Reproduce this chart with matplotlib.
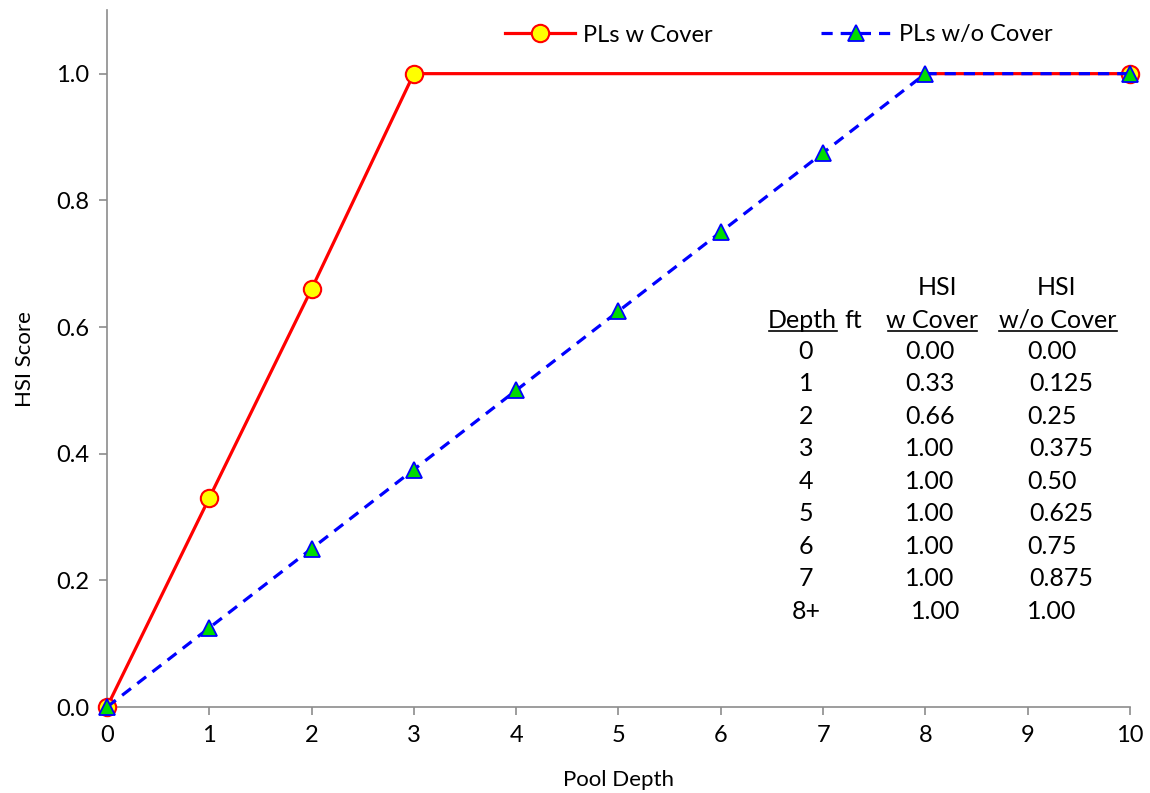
import matplotlib.pyplot as plt
from matplotlib.ticker import MultipleLocator

plt.rcParams['font.family'] = ['Lato', 'DejaVu Sans']

# data
depth_cover = [0, 1, 2, 3, 10]
hsi_cover = [0.0, 0.33, 0.66, 1.0, 1.0]
depth_nocover = [0, 1, 2, 3, 4, 5, 6, 7, 8, 10]
hsi_nocover = [0.0, 0.125, 0.25, 0.375, 0.5, 0.625, 0.75, 0.875, 1.0, 1.0]

table_depth = ['0', '1', '2', '3', '4', '5', '6', '7', '8+']
table_cover = ['0.00', '0.33', '0.66', '1.00', '1.00', '1.00', '1.00', '1.00', '1.00']
table_nocover = ['0.00', '0.125', '0.25', '0.375', '0.50', '0.625', '0.75', '0.875', '1.00']

grey = '#8c8c8c'
fs_tick = 17
fs_lab = 16
fs_leg = 17
fs_tab = 18

fig = plt.figure(figsize=(11.5, 7.93), dpi=100)
ax = fig.add_axes([0.093, 0.1084, 0.8896, 0.8786])

A, = ax.plot(depth_cover, hsi_cover, '-', color='red', lw=2.3, marker='o', ms=12.5,
             mfc='#ffff00', mec='red', mew=1.5, label='PLs w Cover', zorder=3, clip_on=False)
B, = ax.plot(depth_nocover, hsi_nocover, '--', color='#0000ff', lw=2.3, dashes=(3.5, 2.5),
             marker='^', ms=11, mfc='#00dd00', mec='#0000ff', mew=1.3,
             label='PLs w/o Cover', zorder=4, clip_on=False)

ax.set_xlim(0, 10)
ax.set_ylim(0, 1.1)
ax.xaxis.set_major_locator(MultipleLocator(1))
ax.set_yticks([0, 0.2, 0.4, 0.6, 0.8, 1.0])
ax.yaxis.set_major_formatter(plt.FormatStrFormatter('%.1f'))

for s in ['top', 'right']:
    ax.spines[s].set_visible(False)
for s in ['left', 'bottom']:
    ax.spines[s].set_color(grey)
    ax.spines[s].set_linewidth(1.2)
ax.tick_params(which='major', length=6, width=1.2, color=grey, labelsize=fs_tick, pad=7)

ax.set_xlabel('Pool Depth', fontsize=fs_lab, labelpad=17)
ax.set_ylabel('HSI Score', fontsize=fs_lab, labelpad=15)

fig.legend(handles=[A, B], loc='center left', bbox_to_anchor=(505 / 1150, 1 - 35 / 793),
           ncol=2, frameon=False, fontsize=fs_leg, handlelength=2.95, columnspacing=4.6,
           handletextpad=0.35, borderpad=0, borderaxespad=0)

# table inside the plot, positions in axes fraction
def ax_pos(px, py):
    x0, y0, w, h = 107, 10, 1023, 697
    return (px - x0) / w, 1 - (py - y0) / h

col_x = [806, 930, 1052]
row0_y, row_dy = 351, 32.5
tkw = dict(transform=ax.transAxes, fontsize=fs_tab, ha='center', va='center')

for i in range(len(table_depth)):
    yy = row0_y + i * row_dy
    ax.text(*ax_pos(col_x[0], yy), table_depth[i], **tkw)
    ax.text(*ax_pos(col_x[1] + (6 if i == 8 else 0), yy), table_cover[i], **tkw)
    ax.text(*ax_pos(col_x[2] + (9 if len(table_nocover[i]) == 5 else 0), yy),
            table_nocover[i], **tkw)

ax.text(*ax_pos(938, 287), 'HSI', **tkw)
ax.text(*ax_pos(1057, 287), 'HSI', **tkw)
ax.text(*ax_pos(837, 320), 'Depth', transform=ax.transAxes, fontsize=fs_tab, ha='right', va='center')
ax.text(*ax_pos(844, 320), 'ft', transform=ax.transAxes, fontsize=fs_tab, ha='left', va='center')
ax.text(*ax_pos(932, 320), 'w Cover', **tkw)
ax.text(*ax_pos(1058, 320), 'w/o Cover', **tkw)

# underlines
for xa, xb in [(769, 837), (888, 977), (999, 1117)]:
    p1 = ax_pos(xa, 331)
    p2 = ax_pos(xb, 331)
    ax.plot([p1[0], p2[0]], [p1[1], p2[1]], color='black', lw=1.2, transform=ax.transAxes,
            clip_on=False)

fig.savefig('out.png', dpi=100)
